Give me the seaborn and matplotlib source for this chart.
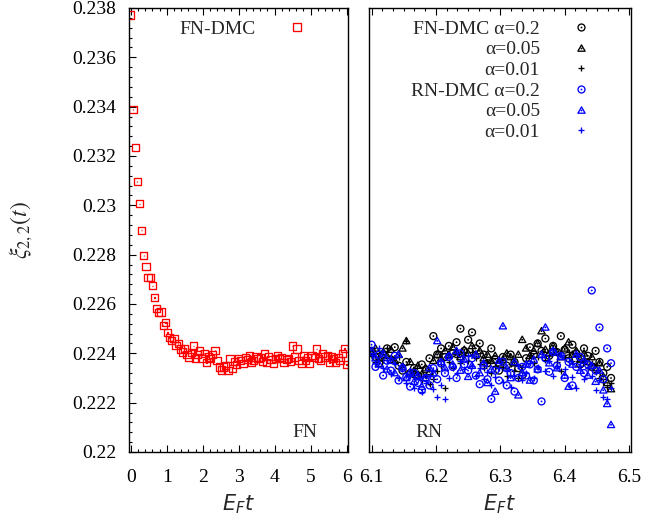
import matplotlib
matplotlib.use("Agg")
import numpy as np
import pandas as pd
import seaborn as sns
import matplotlib.pyplot as plt
from matplotlib.path import Path
from matplotlib.lines import Line2D
from matplotlib.ticker import MultipleLocator, AutoMinorLocator, FuncFormatter

# ---------------- data ----------------
fn_t = [0.00, 0.06, 0.12, 0.18, 0.24, 0.30, 0.36, 0.42, 0.48, 0.54,
        0.60, 0.66, 0.72, 0.78, 0.84, 0.90, 0.96, 1.02, 1.08, 1.14,
        1.20, 1.26, 1.32, 1.38, 1.44, 1.50, 1.56, 1.62, 1.68, 1.74,
        1.80, 1.86, 1.92, 1.98, 2.04, 2.10, 2.16, 2.22, 2.28, 2.34,
        2.40, 2.46, 2.52, 2.58, 2.64, 2.70, 2.76, 2.82, 2.88, 2.94,
        3.00, 3.06, 3.12, 3.18, 3.24, 3.30, 3.36, 3.42, 3.48, 3.54,
        3.60, 3.66, 3.72, 3.78, 3.84, 3.90, 3.96, 4.02, 4.08, 4.14,
        4.20, 4.26, 4.32, 4.38, 4.44, 4.50, 4.56, 4.62, 4.68, 4.74,
        4.80, 4.86, 4.92, 4.98, 5.04, 5.10, 5.16, 5.22, 5.28, 5.34,
        5.40, 5.46, 5.52, 5.58, 5.64, 5.70, 5.76, 5.82, 5.88, 5.94,
        6.00]
fn_xi = [.23772, .23388, .23233, .23097, .23006, .22899, .22796, .22751, .22709, .22709,
         .22674, .22626, .22583, .22567, .22568, .22513, .22525, .22484, .22465, .22452,
         .22461, .22432, .22440, .22418, .22405, .22420, .22394, .22385, .22402, .22430,
         .22380, .22396, .22412, .22380, .22400, .22362, .22385, .22378, .22395, .22412,
         .22372, .22345, .22332, .22345, .22352, .22330, .22378, .22340, .22368, .22355,
         .22380, .22372, .22358, .22384, .22376, .22392, .22365, .22372, .22385, .22378,
         .22382, .22368, .22398, .22362, .22388, .22375, .22360, .22378, .22392, .22380,
         .22384, .22362, .22375, .22380, .22368, .22430, .22385, .22418, .22372, .22360,
         .22390, .22372, .22382, .22360, .22392, .22382, .22418, .22380, .22370, .22398,
         .22385, .22392, .22362, .22388, .22378, .22362, .22384, .22370, .22400, .22420,
         .22355]

rn_t = [6.100, 6.106, 6.112, 6.118, 6.124, 6.130, 6.136, 6.142, 6.148, 6.154,
        6.160, 6.166, 6.172, 6.178, 6.184, 6.190, 6.196, 6.202, 6.208, 6.214,
        6.220, 6.226, 6.232, 6.238, 6.244, 6.250, 6.256, 6.262, 6.268, 6.274,
        6.280, 6.286, 6.292, 6.298, 6.304, 6.310, 6.316, 6.322, 6.328, 6.334,
        6.340, 6.346, 6.352, 6.358, 6.364, 6.370, 6.376, 6.382, 6.388, 6.394,
        6.400, 6.406, 6.412, 6.418, 6.424, 6.430, 6.436, 6.442, 6.448, 6.454,
        6.460, 6.466, 6.472]

fn_a02 = [.22410, .22385, .22360, .22395, .22420, .22375, .22425, .22350, .22330, .22365,
          .22320, .22340, .22310, .22355, .22335, .22380, .22470, .22395, .22420, .22385,
          .22430, .22400, .22445, .22500, .22410, .22455, .22485, .22420, .22440, .22395,
          .22360, .22420, .22375, .22330, .22385, .22350, .22395, .22365, .22340, .22310,
          .22380, .22425, .22395, .22440, .22410, .22460, .22390, .22430, .22405, .22470,
          .22415, .22380, .22435, .22400, .22355, .22420, .22390, .22345, .22410, .22365,
          .22320, .22345, .22300]
fn_a005 = [.22400, .22420, .22380, .22405, .22390, .22415, .22370, .22395, .22420, .22450,
           .22365, .22330, .22350, .22315, .22340, .22325, .22370, .22395, .22380, .22410,
           .22395, .22425, .22405, .22385, .22415, .22400, .22430, .22395, .22410, .22380,
           .22395, .22370, .22390, .22360, .22375, .22400, .22385, .22360, .22395, .22455,
           .22420, .22390, .22410, .22440, .22490, .22415, .22400, .22430, .22405, .22385,
           .22420, .22445, .22395, .22410, .22375, .22400, .22365, .22385, .22340, .22360,
           .22305, .22280, .22255]
fn_a001 = [.22390, .22365, .22400, .22375, .22420, .22385, .22360, .22385, .22350, .22450,
           .22330, .22305, .22320, .22290, .22310, .22275, .22295, .22330, .22350, .22260,
           .22365, .22340, .22385, .22360, .22395, .22370, .22405, .22380, .22355, .22340,
           .22365, .22320, .22350, .22375, .22345, .22310, .22355, .22330, .22300, .22345,
           .22370, .22395, .22360, .22385, .22410, .22375, .22395, .22420, .22365, .22330,
           .22385, .22405, .22370, .22390, .22350, .22375, .22340, .22360, .22325, .22300,
           .22285, .22265, .22280]
rn_a02 = [.22435, .22345, .22395, .22310, .22370, .22330, .22390, .22290, .22340, .22305,
          .22265, .22320, .22280, .22250, .22300, .22270, .22340, .22295, .22360, .22320,
          .22385, .22345, .22300, .22400, .22355, .22330, .22380, .22310, .22275, .22350,
          .22295, .22215, .22330, .22290, .22365, .22270, .22320, .22245, .22300, .22345,
          .22310, .22355, .22290, .22335, .22205, .22380, .22325, .22405, .22350, .22390,
          .22300, .22365, .22270, .22345, .22385, .22320, .22355, .22655, .22330, .22505,
          .22295, .22420, .22360]
rn_a005 = [.22410, .22380, .22355, .22400, .22335, .22370, .22320, .22395, .22345, .22300,
           .22325, .22285, .22310, .22265, .22300, .22340, .22320, .22450, .22365, .22340,
           .22390, .22355, .22410, .22330, .22375, .22305, .22350, .22395, .22320, .22360,
           .22280, .22335, .22245, .22370, .22510, .22340, .22300, .22365, .22230, .22320,
           .22355, .22290, .22375, .22335, .22395, .22505, .22360, .22410, .22340, .22385,
           .22310, .22265, .22355, .22395, .22330, .22370, .22310, .22350, .22285, .22330,
           .22250, .22195, .22110]
rn_a001 = [.22395, .22360, .22420, .22340, .22375, .22315, .22355, .22300, .22335, .22280,
           .22310, .22260, .22295, .22245, .22280, .22310, .22255, .22225, .22270, .22215,
           .22300, .22345, .22320, .22370, .22335, .22390, .22350, .22310, .22340, .22295,
           .22325, .22270, .22305, .22340, .22285, .22330, .22265, .22310, .22350, .22290,
           .22320, .22360, .22300, .22345, .22385, .22330, .22370, .22310, .22350, .22395,
           .22335, .22370, .22305, .22260, .22350, .22295, .22340, .22310, .22250, .22290,
           .22225, .22215, .22260]

left_label = "FN-DMC"
right_labels = ["FN-DMC \u03b1=0.2", "\u03b1=0.05", "\u03b1=0.01",
                "RN-DMC \u03b1=0.2", "\u03b1=0.05", "\u03b1=0.01"]

# ---------------- style ----------------
sns.set_theme(style="ticks")
plt.rcParams["font.family"] = ["Liberation Serif", "DejaVu Serif"]
plt.rcParams["mathtext.fontset"] = "dejavusans"
plt.rcParams["axes.linewidth"] = 1.0
plt.rcParams["axes.edgecolor"] = "black"
FS = 14
LW = 0.95

RED = "#ff0000"
BLUE = "#0000ff"
BLACK = "#000000"


def _closed(verts):
    codes = [Path.MOVETO] + [Path.LINETO] * (len(verts) - 2) + [Path.CLOSEPOLY]
    return Path(verts, codes)


_d = 0.06
_dot = _closed([(-_d, -_d), (_d, -_d), (_d, _d), (-_d, _d), (-_d, -_d)])
SQUARE = Path.make_compound_path(
    _closed([(-1, -1), (1, -1), (1, 1), (-1, 1), (-1, -1)]), _dot)
CIRCLE = Path.make_compound_path(Path.unit_circle(), _dot)
TRIANGLE = Path.make_compound_path(
    _closed([(0, 1), (-1, -0.75), (1, -0.75), (0, 1)]), _dot)

fig = plt.figure(figsize=(6.48, 5.24), dpi=100)
axL = fig.add_axes([129 / 648, 72 / 524, 219 / 648, 444 / 524])
axR = fig.add_axes([369 / 648, 72 / 524, 262 / 648, 444 / 524])

# ---------------- left panel ----------------
sns.scatterplot(x=fn_t, y=fn_xi, ax=axL, marker=SQUARE, s=27,
                facecolor="none", edgecolor=RED, linewidth=LW, legend=False)

# ---------------- right panel ----------------
series = [
    (fn_a02, CIRCLE, BLACK, 25),
    (fn_a005, TRIANGLE, BLACK, 27),
    (fn_a001, "+", BLACK, 24),
    (rn_a02, CIRCLE, BLUE, 25),
    (rn_a005, TRIANGLE, BLUE, 27),
    (rn_a001, "+", BLUE, 24),
]
handles = []
for vals, mk, col, sz in series:
    if mk == "+":
        sns.scatterplot(x=rn_t, y=vals, ax=axR, marker=mk, s=sz, color=col,
                        linewidth=LW, legend=False)
        handles.append(Line2D([], [], marker="+", linestyle="none", color=col,
                              markersize=np.sqrt(sz), markeredgewidth=LW))
    else:
        sns.scatterplot(x=rn_t, y=vals, ax=axR, marker=mk, s=sz,
                        facecolor="none", edgecolor=col, linewidth=LW,
                        legend=False)
        handles.append(Line2D([], [], marker=mk, linestyle="none",
                              markerfacecolor="none", markeredgecolor=col,
                              markersize=np.sqrt(sz), markeredgewidth=LW))

# ---------------- axes formatting ----------------
fmt = FuncFormatter(lambda v, p: f"{round(v, 6):g}")
for ax in (axL, axR):
    ax.set_ylim(0.22, 0.238)
    ax.xaxis.set_major_formatter(fmt)
    ax.tick_params(axis="x", which="both", direction="in", top=True,
                   bottom=True, labelsize=FS, pad=12, colors="black")
    ax.tick_params(axis="x", which="major", length=5, width=0.8)
    ax.tick_params(axis="x", which="minor", length=2.5, width=0.8)
    for sp in ax.spines.values():
        sp.set_visible(True)
        sp.set_color("black")
        sp.set_linewidth(1.0)

axL.set_xlim(-0.05, 6.04)
axL.xaxis.set_major_locator(MultipleLocator(1))
axL.xaxis.set_minor_locator(AutoMinorLocator(5))
axL.yaxis.set_major_locator(MultipleLocator(0.002))
axL.yaxis.set_minor_locator(AutoMinorLocator(5))
axL.yaxis.set_major_formatter(fmt)
axL.tick_params(axis="y", which="both", direction="in", left=True,
                right=False, labelsize=FS, pad=9, colors="black")
axL.tick_params(axis="y", which="major", length=5, width=0.8)
axL.tick_params(axis="y", which="minor", length=2.5, width=0.8)

axR.set_xlim(6.096, 6.503)
axR.xaxis.set_major_locator(MultipleLocator(0.1))
axR.xaxis.set_minor_locator(AutoMinorLocator(6))
axR.tick_params(axis="y", which="both", left=False, right=False,
                labelleft=False)

# labels
xl = r"$E_F t$"
for ax in (axL, axR):
    ax.set_xlabel(xl, fontsize=FS + 1, math_fontfamily="dejavusans")
    ax.xaxis.set_label_coords(0.5, -0.092)
axL.set_ylabel(r"$\xi_{2,2}(t)$", fontsize=FS + 3, math_fontfamily="stix")
axL.yaxis.set_label_coords(-0.43, 0.5)
axR.set_ylabel("")

axL.text(0.744, 0.034, "FN", transform=axL.transAxes, fontsize=FS,
         va="baseline", ha="left")
axR.text(0.176, 0.034, "RN", transform=axR.transAxes, fontsize=FS,
         va="baseline", ha="left")

# legends (text right-aligned, sample to the right, gnuplot style)
hL = Line2D([], [], marker=SQUARE, linestyle="none", markerfacecolor="none",
            markeredgecolor=RED, markersize=np.sqrt(27), markeredgewidth=LW)
axL.legend(handles=[hL], labels=[left_label], loc="upper right",
           bbox_to_anchor=(0.881, 0.973), markerfirst=False, frameon=False,
           borderpad=0, borderaxespad=0, handlelength=2.6, handletextpad=0.8,
           fontsize=FS)
axR.legend(handles=handles, labels=right_labels, loc="upper right",
           bbox_to_anchor=(0.905, 0.973), markerfirst=False, frameon=False,
           borderpad=0, borderaxespad=0, handlelength=2.6, handletextpad=0.8,
           labelspacing=0.16, fontsize=FS)

fig.savefig("out.png", dpi=100)
